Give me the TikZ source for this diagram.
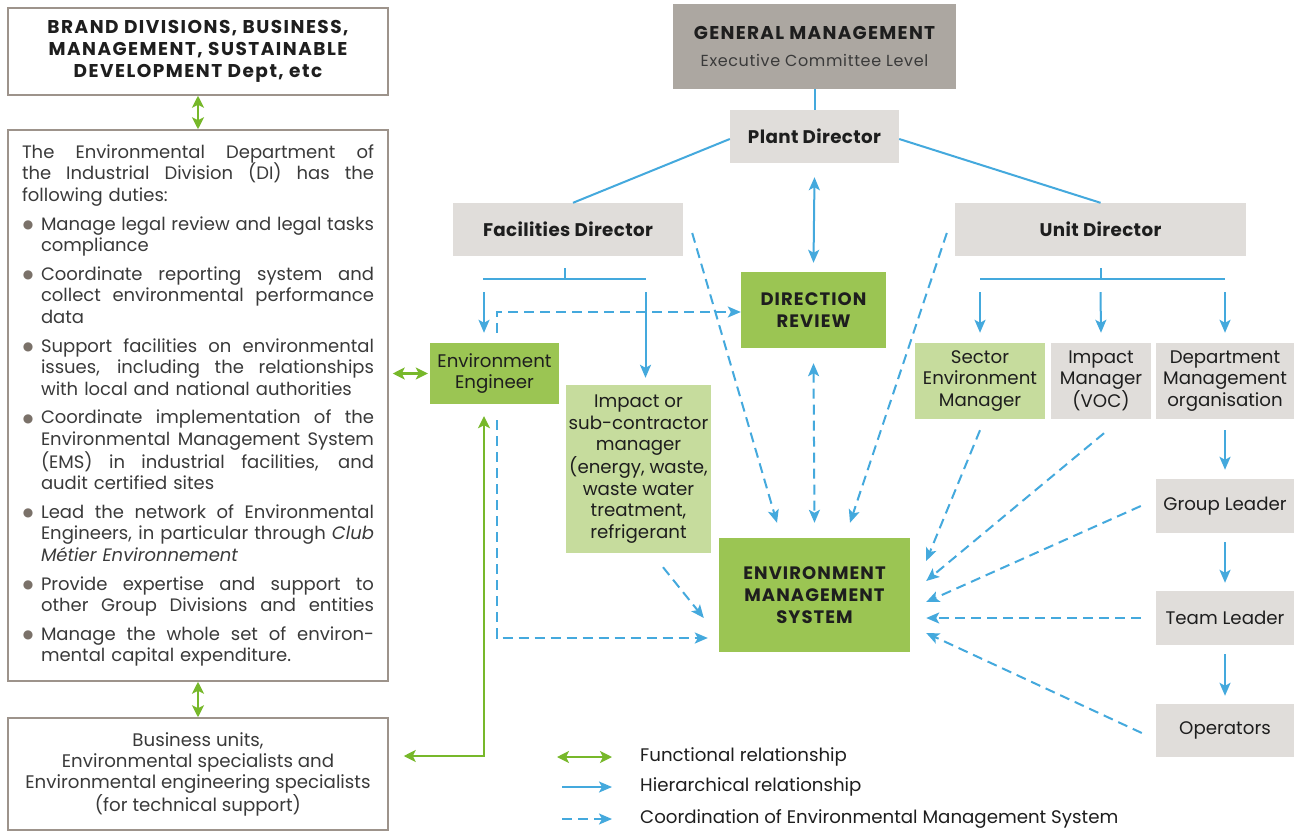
\documentclass[tikz,border=0pt]{standalone}
\usepackage{fontspec}
\setmainfont{Poppins}
\newfontfamily\symfont{DejaVu Sans}
\usetikzlibrary{arrows.meta,calc}
\definecolor{blu}{HTML}{44A9DD}
\definecolor{grn}{HTML}{77B82A}
\definecolor{dgreen}{HTML}{9BC553}
\definecolor{lgreen}{HTML}{C6DC9D}
\definecolor{lgray}{HTML}{E0DDDA}
\definecolor{mgray}{HTML}{ACA7A1}
\definecolor{bord}{HTML}{9D938B}
\definecolor{bulc}{HTML}{7A7169}
\definecolor{txt}{HTML}{1E1E1E}
\definecolor{txtb}{HTML}{3A3A3A}
\newcommand{\dutySp}{\spaceskip=0.25em plus 1fil\relax\xspaceskip=0.25em plus 1fil\relax}
\newcommand{\dutyJ}[1]{\makebox[352pt][s]{\dutySp #1}\par}
\newcommand{\dutyMark}{\makebox[19pt][l]{\hspace{1pt}\raisebox{1.5pt}{\symfont\fontsize{12}{12}\selectfont\color{bulc}●}}}
\newcommand{\dutyBJ}[1]{\dutyMark\makebox[333pt][s]{\dutySp #1}\par}
\newcommand{\dutyIJ}[1]{\hspace*{19pt}\makebox[333pt][s]{\dutySp #1}\par}
\newcommand{\dutyIL}[1]{\hspace*{19pt}#1\par}
\newcommand{\dutyGap}{\vspace{7pt}}
\tikzset{
  sz/.style 2 args={minimum width=#1, minimum height=#2},
  base/.style={inner sep=0pt, align=center, text=txt, font=\fontsize{18.2}{21.5}\selectfont},
  outbox/.style={base, draw=bord, line width=1.5pt},
  graybox/.style={base, fill=lgray},
  dgbox/.style={base, fill=dgreen},
  lgbox/.style={base, fill=lgreen},
  boldt/.style={font=\fontsize{18.3}{21.5}\selectfont\bfseries\addfontfeature{LetterSpace=2}},
  capsb/.style={font=\fontsize{18}{21.8}\selectfont\bfseries\addfontfeature{LetterSpace=6}},
  hline/.style={draw=blu, line width=2pt},
  hier/.style={draw=blu, line width=2pt, -{Stealth[length=13pt,width=11pt,inset=3pt]}},
  hier2/.style={draw=blu, line width=2pt, {Stealth[length=13pt,width=11pt,inset=3pt]}-{Stealth[length=13pt,width=11pt,inset=3pt]}},
  coord/.style={draw=blu, line width=2pt, dash pattern=on 10pt off 6pt, -{Stealth[length=13pt,width=11pt,inset=3pt]}},
  coord2/.style={draw=blu, line width=2pt, dash pattern=on 10pt off 6pt, {Stealth[length=13pt,width=11pt,inset=3pt]}-{Stealth[length=13pt,width=11pt,inset=3pt]}},
  func/.style={draw=grn, line width=2.5pt, {Stealth[length=12pt,width=12pt,inset=3pt]}-{Stealth[length=12pt,width=12pt,inset=3pt]}},
  legtext/.style={anchor=west, inner sep=0pt, text=txt, font=\fontsize{18.2}{20}\selectfont},
}
\begin{document}
\begin{tikzpicture}[x=1pt,y=-1pt]
\useasboundingbox[fill=white] (0,0) rectangle (1295,832);

% ---- left column ----
\node[outbox, sz={380}{87}, font=\fontsize{18.5}{21.8}\selectfont\bfseries\addfontfeature{LetterSpace=8}] (brand) at (198,51.5)
  {BRAND DIVISIONS, BUSINESS,\\MANAGEMENT, SUSTAINABLE\\DEVELOPMENT Dept, etc};
\node[outbox, sz={380}{551}, text width=352pt, align=left, text=txtb,
      font=\fontsize{18}{21.6}\selectfont] (duties) at (198,405.5) {%
\setlength{\parindent}{0pt}\setlength{\parskip}{0pt}%
\dutyJ{The Environmental Department of}
\dutyJ{the Industrial Division (DI) has the}
following duties:\par\dutyGap
\dutyBJ{Manage legal review and legal tasks}
\dutyIL{compliance}\dutyGap
\dutyBJ{Coordinate reporting system and}
\dutyIJ{collect environmental performance}
\dutyIL{data}\dutyGap
\dutyBJ{Support facilities on environmental}
\dutyIJ{issues, including the relationships}
\dutyIL{with local and national authorities}\dutyGap
\dutyBJ{Coordinate implementation of the}
\dutyIJ{Environmental Management System}
\dutyIJ{(EMS) in industrial facilities, and}
\dutyIL{audit certified sites}\dutyGap
\dutyBJ{Lead the network of Environmental}
\dutyIJ{Engineers, in particular through \textit{Club}}
\dutyIL{\textit{Métier Environnement}}\dutyGap
\dutyBJ{Provide expertise and support to}
\dutyIJ{other Group Divisions and entities}\dutyGap
\dutyBJ{Manage the whole set of environ-}
\dutyIL{mental capital expenditure.}};
\node[outbox, sz={380}{112}, text=txtb, font=\fontsize{18.2}{21}\selectfont] (bu) at (198,774)
  {Business units,\\Environmental specialists and\\Environmental engineering specialists\\(for technical support)};

% ---- hierarchy ----
\node[base, fill=mgray, sz={283}{85}] (gm) at (814.5,46.5)
  {{\fontsize{18.5}{20}\selectfont\bfseries\addfontfeature{LetterSpace=7}GENERAL MANAGEMENT}\\[6pt]
   {\fontsize{16}{17}\selectfont\addfontfeature{LetterSpace=4}\color{txtb}Executive Committee Level}};
\node[graybox, sz={169}{53}, boldt] (plant) at (814.5,136.5) {Plant Director};
\node[graybox, sz={230}{53}, boldt] (fac) at (568,229.5) {Facilities Director};
\node[graybox, sz={291}{53}, boldt] (unit) at (1100.5,229.5) {Unit Director};
\node[dgbox, sz={145}{76}, capsb] (dr) at (813.5,310) {DIRECTION\\REVIEW};
\node[dgbox, sz={129}{61}] (ee) at (494.5,373.5) {Environment\\Engineer};
\node[lgbox, sz={145}{168}] (imp) at (638.5,469)
  {Impact or\\sub-contractor\\manager\\(energy, waste,\\waste water\\treatment,\\refrigerant};
\node[dgbox, sz={191}{114}, capsb] (ems) at (814.5,595) {ENVIRONMENT\\MANAGEMENT\\SYSTEM};
\node[lgbox, sz={130}{76}] (sem) at (980,381) {Sector\\Environment\\Manager};
\node[graybox, sz={100}{76}] (voc) at (1101,381) {Impact\\Manager\\(VOC)};
\node[graybox, sz={138}{76}] (dept) at (1225,381) {Department\\Management\\organisation};
\node[graybox, sz={138}{54}] (gl) at (1225,506) {Group Leader};
\node[graybox, sz={138}{54}] (tl) at (1225,618) {Team Leader};
\node[graybox, sz={138}{53}] (op) at (1225,730.5) {Operators};

% ---- green functional relationships ----
\draw[func] (brand.south) -- (duties.north);
\draw[func] (duties.south) -- (bu.north);
\draw[func] ($(duties.east |- ee.west)+(4,0)$) -- ([xshift=-2pt]ee.west);
\draw[func] ([xshift=-10.5pt,yshift=-12pt]ee.south) |- ([xshift=15pt,yshift=18pt]bu.east);

% ---- blue hierarchical ----
\draw[hline] (gm.south) -- (plant.north);
\draw[hline] ([yshift=-2.5pt]plant.west) -- ([xshift=5pt]fac.north);
\draw[hline] ([yshift=-2.5pt]plant.east) -- (unit.north);
\draw[hier2] ([yshift=-14pt]plant.south) -- ([yshift=9pt]dr.north);

\coordinate (fbl) at (483,279);
\coordinate (fbr) at (645.5,279);
\draw[hline] ([xshift=-3pt,yshift=-12pt]fac.south) -- ([xshift=-3pt,yshift=-23pt]fac.south);
\draw[hline] (fbl) -- (fbr);
\draw[hier] ([xshift=1pt,yshift=-13pt]fbl) -- ([xshift=-10.5pt,yshift=10pt]ee.north);
\draw[hier] ([yshift=-13pt]fbr) -- ([xshift=7pt,yshift=7pt]imp.north);

\coordinate (ubl) at (980,279);
\coordinate (ubr) at (1225,279);
\draw[hline] ([yshift=-12pt]unit.south) -- ([yshift=-23pt]unit.south);
\draw[hline] (ubl) -- (ubr);
\draw[hier] ([yshift=-13pt]ubl) -- ([yshift=10pt]sem.north);
\draw[hier] ([yshift=-36pt]unit.south) -- ([yshift=10pt]voc.north);
\draw[hier] ([yshift=-13pt]ubr) -- ([yshift=10pt]dept.north);

\draw[hier] ([yshift=-11pt]dept.south) -- ([yshift=9pt]gl.north);
\draw[hier] ([yshift=-9pt]gl.south) -- ([yshift=8pt]tl.north);
\draw[hier] ([yshift=-9pt]tl.south) -- ([yshift=8pt]op.north);

% ---- blue dashed coordination ----
\draw[coord] ([xshift=2.5pt,yshift=10pt]ee.north) |- ([yshift=-2pt]dr.west);
\draw[coord] ([xshift=9pt,yshift=-3.5pt]fac.east) -- ([xshift=-37.5pt,yshift=15pt]ems.north);
\draw[coord] ([xshift=-8pt,yshift=-3.5pt]unit.west) -- ([xshift=35.5pt,yshift=15pt]ems.north);
\draw[coord2] ([yshift=-15pt]dr.south) -- ([yshift=15pt]ems.north);
\draw[coord] ([xshift=24.5pt,yshift=-14pt]imp.south) -- ([xshift=-15pt,yshift=-23pt]ems.west);
\draw[coord] ([xshift=2pt,yshift=-16pt]ee.south) |- ([xshift=-11pt,yshift=-43pt]ems.west);
\draw[coord] ([yshift=-11pt]sem.south) -- ([xshift=16pt,yshift=34pt]ems.east);
\draw[coord] ([xshift=3pt,yshift=-14pt]voc.south) -- ([xshift=16pt,yshift=14pt]ems.east);
\draw[coord] ([xshift=-15pt]gl.west) -- ([xshift=16pt,yshift=-7pt]ems.east);
\draw[coord] ([xshift=-15pt]tl.west) -- ([xshift=16pt,yshift=-23pt]ems.east);
\draw[coord] ([xshift=-14pt,yshift=-2.5pt]op.west) -- ([xshift=16pt,yshift=-38pt]ems.east);

% ---- legend ----
\node[legtext] (l1) at (640,757) {Functional relationship};
\node[legtext] (l2) at (640,787) {Hierarchical relationship};
\node[legtext] (l3) at (640,819) {Coordination of Environmental Management System};
\draw[func] ([xshift=-83pt]l1.west) -- ([xshift=-28pt]l1.west);
\draw[hier] ([xshift=-78pt]l2.west) -- ([xshift=-28pt]l2.west);
\draw[coord] ([xshift=-78pt]l3.west) -- ([xshift=-28pt]l3.west);
\end{tikzpicture}
\end{document}
